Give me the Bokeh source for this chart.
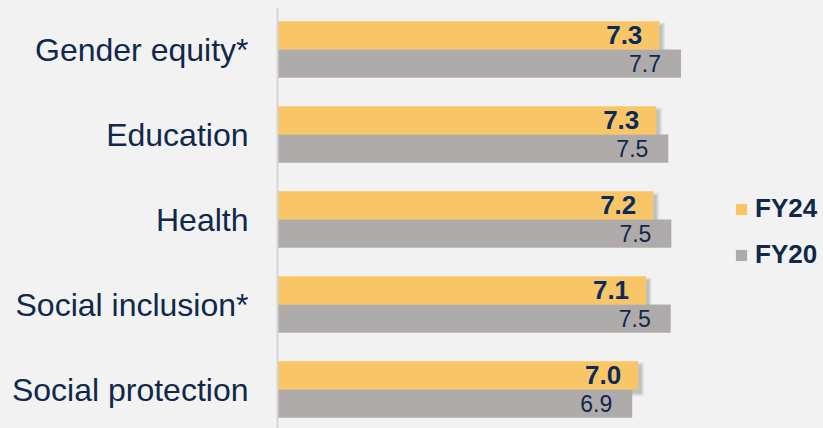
from bokeh.plotting import figure
from bokeh.models import ColumnDataSource, Range1d, FixedTicker, Legend, LegendItem
from bokeh.embed import file_html
from bokeh.resources import INLINE
from bokeh.core.properties import value

# ---- data ----
categories = ["Gender equity*", "Education", "Health", "Social inclusion*", "Social protection"]
series = ["FY24", "FY20"]
fy24 = [7.34, 7.29, 7.24, 7.12, 6.99]
fy20 = [7.70, 7.49, 7.54, 7.53, 6.89]

# ---- styles ----
BG = "#f2f2f2"
C24 = "#f8c667"
C20 = "#afabab"
NAVY = "#0d2a5c"
TXT = "#10284a"
FONT = "Liberation Sans"

W, H = 823, 428
LEFT, RIGHT, TOP = 277, 4, 7
X0, X1 = 1.0, 10.0
Y_TOP = -42 / 85
Y_BOT = Y_TOP + (H - TOP) / 85

idx = list(range(len(categories)))
y24 = [i - 1 / 6 for i in idx]
y20 = [i + 1 / 6 for i in idx]

src = ColumnDataSource(dict(
    y24=y24, y20=y20, fy24=fy24, fy20=fy20,
    l24=[f"{v:.1f}" for v in fy24], l20=[f"{v:.1f}" for v in fy20],
))

p = figure(width=W, height=H, output_backend="svg", toolbar_location=None,
           x_range=Range1d(X0, X1), y_range=Range1d(Y_BOT, Y_TOP),
           x_axis_location=None, min_border=0, min_border_left=LEFT,
           min_border_right=RIGHT, min_border_top=TOP)
p.background_fill_color = BG
p.border_fill_color = BG
p.outline_line_color = None
p.grid.visible = False

# soft drop shadow for FY24 bars
px_x = (X1 - X0) / (W - LEFT - RIGHT)
px_y = (Y_BOT - Y_TOP) / (H - TOP)
bh = 1 / 3
for b, a in [(3, 0.04), (2, 0.05), (1, 0.06), (0, 0.07)]:
    p.quad(left=[X0] * len(fy24),
           right=[v + (3 + b) * px_x for v in fy24],
           top=[y - bh / 2 + (4 - b) * px_y for y in y24],
           bottom=[y + bh / 2 + (4 + b) * px_y for y in y24],
           fill_color="#000000", fill_alpha=a, line_color=None)

r20 = p.hbar(y="y20", left=X0, right="fy20", height=bh, source=src,
             fill_color=C20, line_color=None)
r24 = p.hbar(y="y24", left=X0, right="fy24", height=bh, source=src,
             fill_color=C24, line_color=None)

p.text(x="fy24", y="y24", text="l24", source=src, x_offset=-17,
       text_align="right", text_baseline="middle", text_font=value(FONT),
       text_font_size="26px", text_font_style="bold", text_color=NAVY)
p.text(x="fy20", y="y20", text="l20", source=src, x_offset=-20,
       text_align="right", text_baseline="middle", text_font=value(FONT),
       text_font_size="23px", text_color=TXT)

ax = p.yaxis[0]
ax.ticker = FixedTicker(ticks=idx)
ax.major_label_overrides = {i: c for i, c in zip(idx, categories)}
ax.major_tick_in = 0
ax.major_tick_out = 0
ax.minor_tick_in = 0
ax.minor_tick_out = 0
ax.major_label_standoff = 29
ax.major_label_text_font = FONT
ax.major_label_text_font_size = "32px"
ax.major_label_text_color = TXT
ax.axis_line_color = "#d6d6d6"
ax.axis_line_width = 2

legend = Legend(items=[LegendItem(label=series[0], renderers=[r24]),
                       LegendItem(label=series[1], renderers=[r20])],
                location=(457, 158), orientation="vertical",
                glyph_width=14, glyph_height=14, label_height=30,
                label_standoff=7, spacing=15, padding=0, margin=0,
                label_text_font=FONT, label_text_font_size="26px",
                label_text_font_style="bold", label_text_color=TXT,
                border_line_alpha=0, background_fill_alpha=0)
p.add_layout(legend)

html = file_html(p, INLINE)
html = html.replace("</head>", "<style>body{background:%s;}</style></head>" % BG, 1)
open("out.html", "w").write(html)
